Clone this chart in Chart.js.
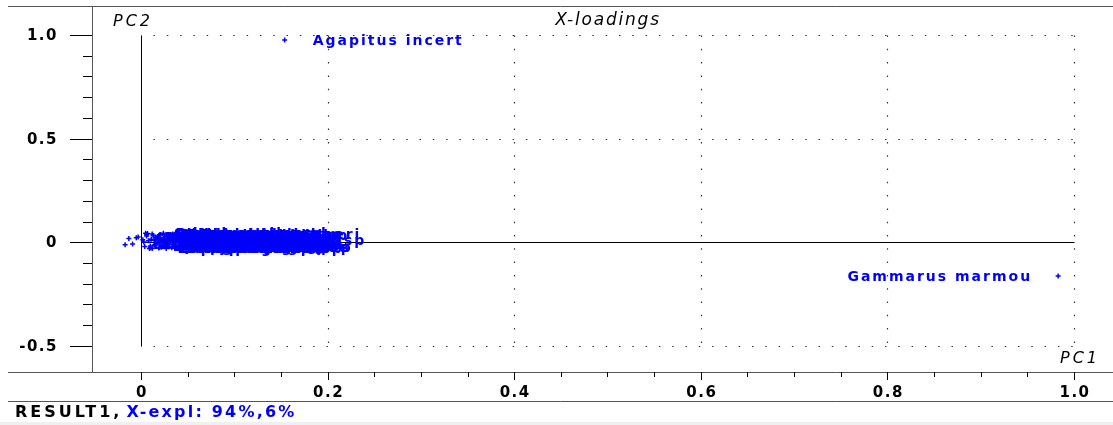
<!DOCTYPE html>
<html>
<head>
<meta charset="utf-8">
<title>X-loadings</title>
<script src="https://cdn.jsdelivr.net/npm/chart.js@4.4.1/dist/chart.umd.min.js"></script>
<style>
  body { margin: 0; background: #fff; overflow: hidden; }
  #wrap { width: 1113px; height: 425px; position: relative; }
  canvas { display: block; }
</style>
</head>
<body>
<div id="wrap"><canvas id="loadings"></canvas></div>
<script>
// X-loadings, PC1 vs PC2
const speciesNames = [
  "Agapitus incert", "Gammarus marmou",
  "Baetis rhodani", "Baetis alpinus", "Ecdyonurus ven", "Rhithrogena se",
  "Habroleptoides", "Ephemerella ig", "Leuctra sp", "Nemoura sp",
  "Protonemura sp", "Perla marginat", "Isoperla gramma", "Dinocras cephal",
  "Hydropsyche sp", "Rhyacophila sp", "Silo pallipes", "Sericostoma pe",
  "Odontocerum al", "Limnephilidae", "Polycentropus", "Simulium sp",
  "Chironomidae", "Tipula sp", "Dicranota sp", "Atherix ibis",
  "Elmis aenea", "Limnius volckm", "Esolus angusta", "Hydraena sp",
  "Oulimnius sp", "Ancylus fluvia", "Potamopyrgus", "Oligochaeta",
  "Dugesia gonoce", "Hydracarina", "Erpobdella oct", "Glossosoma sp",
  "Philopotamus", "Wormaldia sp", "Psychodidae sp", "Ceratopogon sp",
  "Caenis luctuos", "Serratella ign", "Epeorus sylvic", "Heptagenia sp",
  "Amphinemura sp", "Chloroperla sp", "Brachyptera sp", "Hydroptila sp",
  "Lepidostoma hi", "Micrasema sp", "Agapetus fusci", "Tinodes waeneri",
  "Chelifera sp", "Hemerodromia", "Limnophora sp", "Stratiomyidae",
  "Riolus subviol", "Dryops sp", "Gyraulus albus", "Radix balthica",
  "Pisidium sp", "Asellus aquati", "Lumbriculidae", "Naididae sp"
];
const pc1 = [
  0.154, 0.983,
  -0.017, -0.013, -0.009, -0.005, 0.002, 0.004, 0.006, 0.008,
  0.010, 0.012, 0.003, 0.014, 0.016, 0.018, 0.020, 0.022,
  0.005, 0.009, 0.011, 0.024, 0.026, 0.013, 0.015, 0.017,
  0.019, 0.021, 0.023, 0.025, 0.027, 0.029, 0.007, 0.028,
  0.030, 0.031, 0.012, 0.018, 0.022, 0.026, 0.032, 0.033,
  0.034, 0.036, 0.035, 0.037, 0.038, 0.033, 0.029, 0.024,
  0.020, 0.016, 0.031, 0.035, 0.027, 0.037, 0.014, 0.010,
  0.025, 0.032, 0.039, 0.021, 0.006, 0.036, 0.028, -0.003
];
const pc2 = [
  0.976, -0.163,
  -0.012, 0.018, -0.008, 0.022, 0.012, -0.020, 0.030, 0.008,
  -0.026, 0.040, 0.002, -0.014, 0.025, -0.004, 0.036, -0.024,
  0.044, -0.030, 0.015, 0.006, -0.018, 0.033, -0.010, 0.020,
  -0.028, 0.038, 0.000, -0.016, 0.028, -0.006, 0.042, 0.010,
  -0.022, 0.004, -0.030, 0.026, 0.014, -0.012, 0.034, -0.026,
  0.040, -0.020, 0.016, -0.028, 0.008, 0.030, -0.010, 0.044,
  -0.024, 0.022, -0.002, 0.036, -0.030, -0.008, 0.010, -0.018,
  0.032, 0.020, -0.026, 0.000, 0.038, 0.012, -0.016, 0.026
];
const xTickValues = [0, 0.2, 0.4, 0.6, 0.8, 1.0];
const xTickLabels = ["0", "0.2", "0.4", "0.6", "0.8", "1.0"];
const yTickValues = [-0.5, 0, 0.5, 1.0];
const yTickLabels = ["-0.5", "0", "0.5", "1.0"];
const titleText = "X-loadings";
const xAxisName = "PC1";
const yAxisName = "PC2";
const footerName = "RESULT1,";
const footerExpl = "X-expl: 94%,6%";

const BLUE = "#0000ff";

function line(ctx, x1, y1, x2, y2) {
  ctx.beginPath();
  ctx.moveTo(x1, y1);
  ctx.lineTo(x2, y2);
  ctx.stroke();
}

const frameAndGrid = {
  id: "frameAndGrid",
  beforeDatasetsDraw(chart) {
    const ctx = chart.ctx;
    const xs = chart.scales.x, ys = chart.scales.y;
    const x0 = Math.round(xs.getPixelForValue(0)) + 0.5;
    const x1 = Math.round(xs.getPixelForValue(1)) + 0.5;
    const yTop = Math.round(ys.getPixelForValue(1)) + 0.5;
    const yBot = Math.round(ys.getPixelForValue(-0.5)) + 0.5;
    const yZero = Math.round(ys.getPixelForValue(0)) + 0.5;
    ctx.save();
    // dotted grid inside data range
    ctx.strokeStyle = "#333";
    ctx.lineWidth = 1.2;
    ctx.setLineDash([1.5, 11.8]);
    [1.0, 0.5, -0.5].forEach(v => {
      const y = Math.round(ys.getPixelForValue(v)) + 0.5;
      ctx.lineDashOffset = -12;
      line(ctx, x0, y, x1 + 1, y);
    });
    xTickValues.slice(1).forEach(v => {
      const x = Math.round(xs.getPixelForValue(v)) + 0.5;
      ctx.lineDashOffset = 0;
      line(ctx, x, yTop, x, yBot + 1);
    });
    ctx.setLineDash([]);
    // solid zero axes
    ctx.strokeStyle = "#000";
    ctx.lineWidth = 1;
    line(ctx, x0, yTop, x0, yBot);
    line(ctx, x0, yZero, x1, yZero);
    ctx.restore();
  },
  afterDraw(chart) {
    const ctx = chart.ctx;
    const area = chart.chartArea;
    const xs = chart.scales.x, ys = chart.scales.y;
    const W = chart.width;
    ctx.save();
    // frame
    ctx.strokeStyle = "#555";
    ctx.lineWidth = 1;
    line(ctx, 8, area.top + 0.5, W, area.top + 0.5);
    line(ctx, 8, area.bottom + 0.5, W, area.bottom + 0.5);
    line(ctx, area.left + 0.5, area.top, area.left + 0.5, area.bottom);
    line(ctx, 8, 401.5, W, 401.5);
    ctx.fillStyle = "#f0f0f0";
    ctx.fillRect(0, 422, W, 3);

    // y ticks
    ctx.strokeStyle = "#000";
    for (let k = -5; k <= 10; k++) {
      const v = k / 10;
      const y = Math.round(ys.getPixelForValue(v)) + 0.5;
      const major = k % 5 === 0;
      line(ctx, area.left - (major ? 22 : 9), y, area.left, y);
    }
    // x ticks
    for (let k = 0; k <= 20; k++) {
      const v = k / 20;
      const x = Math.round(xs.getPixelForValue(v)) + 0.5;
      const major = k % 4 === 0;
      line(ctx, x, area.bottom, x, area.bottom + (major ? 8 : 5));
    }
    // tick labels
    ctx.fillStyle = "#000";
    ctx.font = "bold 15px 'DejaVu Sans'";
    ctx.letterSpacing = "1.5px";
    ctx.textBaseline = "middle";
    ctx.textAlign = "right";
    yTickValues.forEach((v, i) => {
      ctx.fillText(yTickLabels[i], 58, ys.getPixelForValue(v) + 1);
    });
    ctx.textAlign = "center";
    xTickValues.forEach((v, i) => {
      ctx.fillText(xTickLabels[i], xs.getPixelForValue(v) + 1, 393);
    });

    // axis names and title
    ctx.font = "italic 16px 'DejaVu Sans'";
    ctx.letterSpacing = "3px";
    ctx.textAlign = "left";
    ctx.fillText(yAxisName, 113, 22);
    ctx.fillText(xAxisName, 1060, 359);
    ctx.font = "italic 17px 'DejaVu Sans'";
    ctx.letterSpacing = "1.8px";
    ctx.textAlign = "center";
    ctx.fillText(titleText, 608, 21);

    // footer
    ctx.font = "bold 16px 'DejaVu Sans'";
    ctx.letterSpacing = "3px";
    ctx.textAlign = "left";
    ctx.fillStyle = "#000";
    ctx.fillText(footerName, 15, 413);
    const w = ctx.measureText(footerName).width;
    ctx.letterSpacing = "2.2px";
    ctx.fillStyle = BLUE;
    ctx.fillText(footerExpl, 15 + w + 4, 413);
    ctx.restore();
  }
};

const pointLabels = {
  id: "pointLabels",
  afterDatasetsDraw(chart) {
    const ctx = chart.ctx;
    const meta = chart.getDatasetMeta(0);
    const area = chart.chartArea;
    ctx.save();
    ctx.font = "bold 14px 'DejaVu Sans'";
    ctx.letterSpacing = "2px";
    ctx.fillStyle = BLUE;
    ctx.textBaseline = "middle";
    meta.data.forEach((pt, i) => {
      const txt = speciesNames[i];
      const w = ctx.measureText(txt).width;
      if (pt.x + 28 + w > area.right - 4) {
        ctx.textAlign = "right";
        ctx.fillText(txt, pt.x - 26, pt.y + 1);
      } else {
        ctx.textAlign = "left";
        ctx.fillText(txt, pt.x + 28, pt.y + 1);
      }
    });
    ctx.restore();
  }
};

new Chart(document.getElementById("loadings"), {
  type: "scatter",
  data: {
    datasets: [
      {
        data: pc1.map((v, i) => ({ x: v, y: pc2[i] })),
        pointStyle: "cross",
        pointRadius: 2.5,
        borderColor: BLUE,
        borderWidth: 1.5,
        backgroundColor: BLUE,
      },
    ],
  },
  options: {
    responsive: true,
    maintainAspectRatio: false,
    animation: false,
    layout: { autoPadding: false, padding: { left: 92, top: 6, right: 0, bottom: 53 } },
    scales: {
      x: { type: "linear", min: -0.0525, max: 1.0418, display: false },
      y: { type: "linear", min: -0.6257, max: 1.14, display: false },
    },
    plugins: {
      legend: { display: false },
      tooltip: { enabled: false },
    },
  },
  plugins: [frameAndGrid, pointLabels],
});
</script>
</body>
</html>
